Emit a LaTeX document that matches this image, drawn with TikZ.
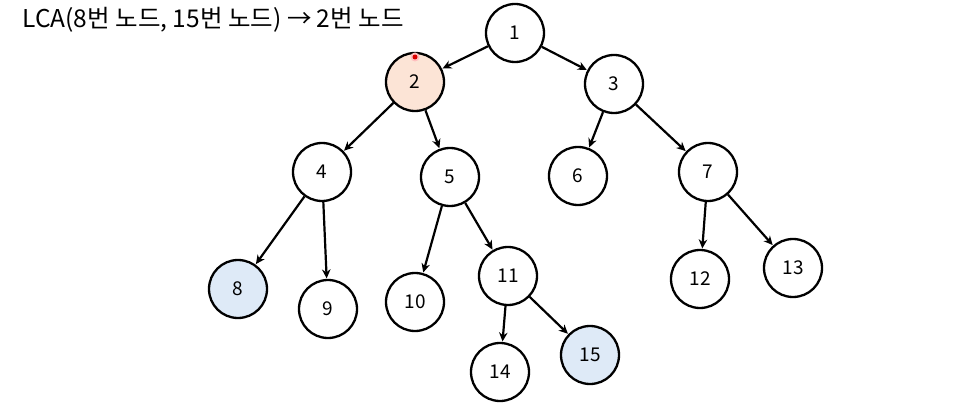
\documentclass[tikz,border=0pt]{standalone}
\usepackage{fontspec}
\setmainfont{Noto Sans CJK KR}
\usetikzlibrary{arrows.meta}
\definecolor{hlorange}{HTML}{FCE4D6}
\definecolor{hlblue}{HTML}{DEEAF7}
\begin{document}
\begin{tikzpicture}[x=1pt,y=-1pt,
  tn/.style={circle,draw=black,line width=2.3pt,minimum size=58pt,inner sep=0pt,fill=white,font=\fontsize{19}{19}\selectfont},
  edge/.style={line width=2.2pt,-{Stealth[length=9pt,width=8.5pt]},shorten >=0.5pt}]
\useasboundingbox (0,0) rectangle (974,414);
\node[anchor=west,font=\fontsize{24.5}{24.5}\selectfont] (title) at (19,20) {LCA(8번 노드, 15번 노드) → 2번 노드};
\node[tn] (n1) at (515,33) {1};
\node[tn,fill=hlorange] (n2) at (415,82) {2};
\node[tn] (n3) at (614,84) {3};
\node[tn] (n4) at (322,172) {4};
\node[tn] (n5) at (450,177) {5};
\node[tn] (n6) at (578,176) {6};
\node[tn] (n7) at (708,172) {7};
\node[tn,fill=hlblue] (n8) at (238,289) {8};
\node[tn] (n9) at (328,309) {9};
\node[tn] (n10) at (415,302) {10};
\node[tn] (n11) at (508,276) {11};
\node[tn] (n12) at (700,279) {12};
\node[tn] (n13) at (793,268) {13};
\node[tn] (n14) at (500,372) {14};
\node[tn,fill=hlblue] (n15) at (590,355) {15};
\draw[edge] (n1) -- (n2);
\draw[edge] (n1) -- (n3);
\draw[edge] (n2) -- (n4);
\draw[edge] (n2) -- (n5);
\draw[edge] (n3) -- (n6);
\draw[edge] (n3) -- (n7);
\draw[edge] (n4) -- (n8);
\draw[edge] (n4) -- (n9);
\draw[edge] (n5) -- (n10);
\draw[edge] (n5) -- (n11);
\draw[edge] (n7) -- (n12);
\draw[edge] (n7) -- (n13);
\draw[edge] (n11) -- (n14);
\draw[edge] (n11) -- (n15);
\fill[red!25] (415,57) circle (4.5pt);
\fill[red!85!black] (415,57) circle (2.5pt);
\end{tikzpicture}
\end{document}
